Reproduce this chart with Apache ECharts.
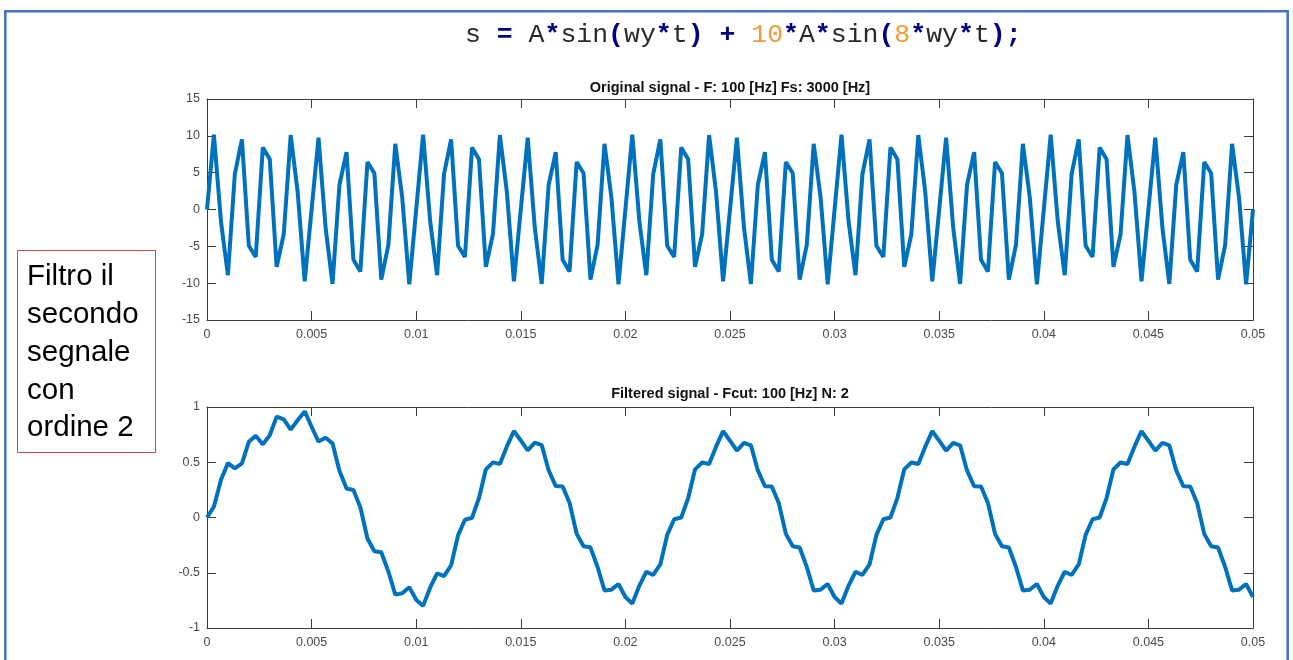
<!DOCTYPE html>
<html><head><meta charset="utf-8">
<script src="https://cdn.jsdelivr.net/npm/echarts@6/dist/echarts.min.js"></script>
<style>html,body{margin:0;padding:0;background:#fff;}#c{width:1293px;height:660px;}</style>
</head><body><div id="c"></div>
<script>
// sample times [s]
const tSec = [
0,0.00033,0.00067,0.001,0.00133,0.00167,0.002,0.00233,0.00267,0.003,0.00333,0.00367,0.004,0.00433,0.00467,0.005,0.00533,0.00567,0.006,0.00633,0.00667,0.007,0.00733,0.00767,0.008,0.00833,0.00867,0.009,0.00933,0.00967,0.01,
0.01033,0.01067,0.011,0.01133,0.01167,0.012,0.01233,0.01267,0.013,0.01333,0.01367,0.014,0.01433,0.01467,0.015,0.01533,0.01567,0.016,0.01633,0.01667,0.017,0.01733,0.01767,0.018,0.01833,0.01867,0.019,0.01933,0.01967,0.02,
0.02033,0.02067,0.021,0.02133,0.02167,0.022,0.02233,0.02267,0.023,0.02333,0.02367,0.024,0.02433,0.02467,0.025,0.02533,0.02567,0.026,0.02633,0.02667,0.027,0.02733,0.02767,0.028,0.02833,0.02867,0.029,0.02933,0.02967,0.03,
0.03033,0.03067,0.031,0.03133,0.03167,0.032,0.03233,0.03267,0.033,0.03333,0.03367,0.034,0.03433,0.03467,0.035,0.03533,0.03567,0.036,0.03633,0.03667,0.037,0.03733,0.03767,0.038,0.03833,0.03867,0.039,0.03933,0.03967,0.04,
0.04033,0.04067,0.041,0.04133,0.04167,0.042,0.04233,0.04267,0.043,0.04333,0.04367,0.044,0.04433,0.04467,0.045,0.04533,0.04567,0.046,0.04633,0.04667,0.047,0.04733,0.04767,0.048,0.04833,0.04867,0.049,0.04933,0.04967,0.05
];
// original signal values
const original = [
0,10.15,-1.67,-8.92,4.81,9.53,-4.93,-6.44,8.43,6.83,-7.79,-3.32,10.10,2.49,-9.74,0,9.74,-2.49,-10.10,3.32,7.79,-6.83,-8.43,6.44,4.93,-9.53,-4.81,8.92,1.67,-10.15,
0,10.15,-1.67,-8.92,4.81,9.53,-4.93,-6.44,8.43,6.83,-7.79,-3.32,10.10,2.49,-9.74,0,9.74,-2.49,-10.10,3.32,7.79,-6.83,-8.43,6.44,4.93,-9.53,-4.81,8.92,1.67,-10.15,
0,10.15,-1.67,-8.92,4.81,9.53,-4.93,-6.44,8.43,6.83,-7.79,-3.32,10.10,2.49,-9.74,0,9.74,-2.49,-10.10,3.32,7.79,-6.83,-8.43,6.44,4.93,-9.53,-4.81,8.92,1.67,-10.15,
0,10.15,-1.67,-8.92,4.81,9.53,-4.93,-6.44,8.43,6.83,-7.79,-3.32,10.10,2.49,-9.74,0,9.74,-2.49,-10.10,3.32,7.79,-6.83,-8.43,6.44,4.93,-9.53,-4.81,8.92,1.67,-10.15,
0,10.15,-1.67,-8.92,4.81,9.53,-4.93,-6.44,8.43,6.83,-7.79,-3.32,10.10,2.49,-9.74,0,9.74,-2.49,-10.10,3.32,7.79,-6.83,-8.43,6.44,4.93,-9.53,-4.81,8.92,1.67,-10.15,
0
];
// filtered signal values
const filtered = [
0,0.097,0.342,0.492,0.444,0.489,0.685,0.739,0.662,0.744,0.913,0.888,0.795,0.880,0.960,0.821,0.687,0.722,0.671,0.422,0.263,0.249,0.093,-0.190,-0.305,-0.314,-0.489,-0.698,-0.686,-0.632,
-0.744,-0.800,-0.633,-0.505,-0.531,-0.432,-0.162,-0.020,-0.002,0.175,0.436,0.499,0.485,0.641,0.783,0.697,0.607,0.678,0.655,0.428,0.284,0.281,0.133,-0.147,-0.260,-0.270,-0.448,-0.660,-0.653,-0.602,
-0.719,-0.779,-0.616,-0.491,-0.520,-0.425,-0.157,-0.016,0.000,0.176,0.436,0.498,0.484,0.639,0.781,0.695,0.605,0.676,0.653,0.426,0.283,0.280,0.132,-0.148,-0.261,-0.271,-0.448,-0.660,-0.653,-0.602,
-0.719,-0.779,-0.616,-0.491,-0.520,-0.425,-0.157,-0.016,0.000,0.176,0.436,0.498,0.484,0.639,0.781,0.695,0.605,0.676,0.653,0.426,0.283,0.280,0.132,-0.148,-0.261,-0.271,-0.448,-0.660,-0.653,-0.602,
-0.719,-0.779,-0.616,-0.491,-0.520,-0.425,-0.157,-0.016,0.000,0.176,0.436,0.498,0.484,0.639,0.781,0.695,0.605,0.676,0.653,0.426,0.283,0.280,0.132,-0.148,-0.261,-0.271,-0.448,-0.660,-0.653,-0.602,
-0.719
];
const xRange = [0, 0.05, 0.005];
const yRangeTop = [-15, 15, 5];
const yRangeBottom = [-1, 1, 0.5];
const titles = ['Original signal - F: 100 [Hz] Fs: 3000 [Hz]', 'Filtered signal - Fcut: 100 [Hz] N: 2'];
const noteLines = ['Filtro il', 'secondo', 'segnale', 'con', 'ordine 2'];

const AX = '#3a3a3a', LBL = '#4a4a4a', LINE = '#0072BD';
const FONT = 'Liberation Sans, Arial, sans-serif';

function xAx(grid, pos, labels) {
  return {
    type: 'value', gridIndex: grid, position: pos, min: xRange[0], max: xRange[1], interval: xRange[2],
    axisLine: {show: true, onZero: false, lineStyle: {color: AX, width: 1}},
    axisTick: {show: true, inside: true, length: 9, lineStyle: {color: AX}},
    axisLabel: {show: labels, color: LBL, fontSize: 12.5, fontFamily: FONT, margin: 8},
    splitLine: {show: false}
  };
}
function yAx(grid, pos, r, labels) {
  return {
    type: 'value', gridIndex: grid, position: pos, min: r[0], max: r[1], interval: r[2],
    axisLine: {show: true, onZero: false, lineStyle: {color: AX, width: 1}},
    axisTick: {show: true, inside: true, length: 9, lineStyle: {color: AX}},
    axisLabel: {show: labels, color: LBL, fontSize: 12.5, fontFamily: FONT, margin: 7},
    splitLine: {show: false}
  };
}

const MONO = 'Liberation Mono, Courier New, monospace';
const FS = 26.5;
const formula = '{p|s }{o|=}{p| A}{o|*}{p|sin}{o|(}{p|wy}{o|*}{p|t}{o|)}{p| }{o|+}{p| }{n|10}{o|*}{p|A}{o|*}{p|sin}{o|(}{n|8}{o|*}{p|wy}{o|*}{p|t}{o|)}{o|;}';

const graphics = [
  {type: 'rect', silent: true, shape: {x: 5.3, y: 11.2, width: 1282.4, height: 720},
   style: {fill: 'none', stroke: '#4472C4', lineWidth: 2.5}},
  {type: 'text', x: 465, y: 35, style: {text: formula, verticalAlign: 'middle', align: 'left',
    rich: {
      p: {fontFamily: MONO, fontSize: FS, fill: '#2a2a2a'},
      o: {fontFamily: MONO, fontSize: FS, fill: '#000080', fontWeight: 'bold'},
      n: {fontFamily: MONO, fontSize: FS, fill: '#F39C37'}
    }}},
  {type: 'text', x: 730, y: 88, style: {text: titles[0], font: 'bold 14.5px ' + FONT, fill: '#111', align: 'center', verticalAlign: 'middle'}},
  {type: 'text', x: 730, y: 394, style: {text: titles[1], font: 'bold 14.5px ' + FONT, fill: '#111', align: 'center', verticalAlign: 'middle'}},
  {type: 'rect', silent: true, shape: {x: 17.5, y: 250.5, width: 138, height: 202},
   style: {fill: 'none', stroke: '#C0504D', lineWidth: 1}}
];
noteLines.forEach((s, i) => {
  graphics.push({type: 'text', x: 27, y: 277 + i * 37.8,
    style: {text: s, font: '29.5px ' + FONT, fill: '#000', align: 'left', verticalAlign: 'middle'}});
});

const chart = echarts.init(document.getElementById('c'), null, {renderer: 'canvas'});
chart.setOption({
  backgroundColor: '#ffffff',
  animation: false,
  grid: [
    {left: 207, top: 99, width: 1046, height: 221},
    {left: 207, top: 407, width: 1046, height: 221}
  ],
  xAxis: [xAx(0, 'bottom', true), xAx(0, 'top', false), xAx(1, 'bottom', true), xAx(1, 'top', false)],
  yAxis: [yAx(0, 'left', yRangeTop, true), yAx(0, 'right', yRangeTop, false),
          yAx(1, 'left', yRangeBottom, true), yAx(1, 'right', yRangeBottom, false)],
  series: [
    {type: 'line', xAxisIndex: 0, yAxisIndex: 0, showSymbol: false, symbol: 'none',
     data: tSec.map((t, i) => [t, original[i]]), lineStyle: {color: LINE, width: 4}, clip: true},
    {type: 'line', xAxisIndex: 2, yAxisIndex: 2, showSymbol: false, symbol: 'none',
     data: tSec.map((t, i) => [t, filtered[i]]), lineStyle: {color: LINE, width: 4}, clip: true}
  ],
  graphic: graphics
});
</script></body></html>
